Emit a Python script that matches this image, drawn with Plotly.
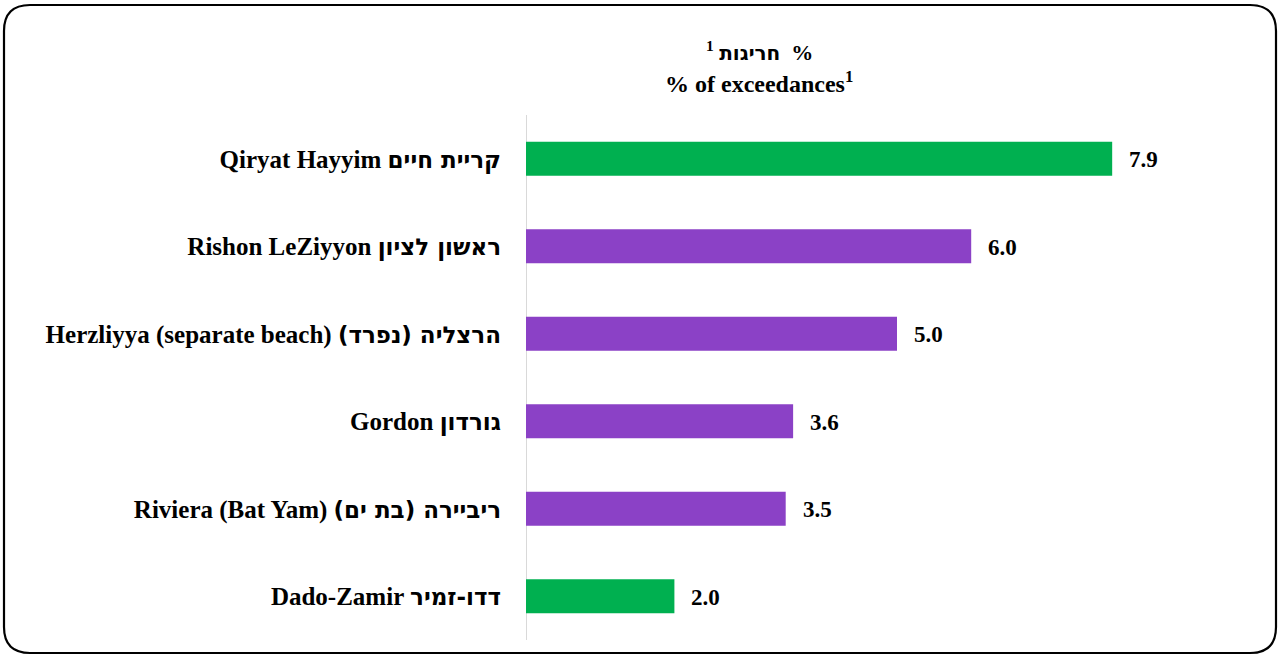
import plotly.graph_objects as go

HEB = '<span style="font-family:\'DejaVu Sans\';font-weight:bold;font-size:{}px">{}</span>'

english = ["Qiryat Hayyim", "Rishon LeZiyyon", "Herzliyya (separate beach)",
           "Gordon", "Riviera (Bat Yam)", "Dado-Zamir"]
hebrew = ["קריית חיים", "ראשון לציון", "הרצליה (נפרד)",
          "גורדון", "ריביירה (בת ים)", "דדו-זמיר"]
values = [7.9, 6.0, 5.0, 3.6, 3.5, 2.0]
value_labels = ["7.9", "6.0", "5.0", "3.6", "3.5", "2.0"]
colors = ["#00B050", "#8B41C6", "#8B41C6", "#8B41C6", "#8B41C6", "#00B050"]

categories = [f"{e} {h}" for e, h in zip(english, hebrew)]
ticktexts = [f"{e} " + HEB.format(23, h) for e, h in zip(english, hebrew)]

W, H = 1279, 655
L, R, T, B = 526, 11, 115, 15
pw, ph = W - L - R, H - T - B

FONT = "Liberation Serif, serif"

fig = go.Figure(go.Bar(
    x=values, y=categories, orientation="h",
    marker=dict(color=colors, line=dict(width=0)),
    width=0.39, hoverinfo="skip",
))

for c, v, t in zip(categories, values, value_labels):
    fig.add_annotation(x=v, y=c, text=f"<b>{t}</b>", showarrow=False,
                       xanchor="left", xshift=15, yshift=-1,
                       font=dict(family=FONT, size=23, color="#000"))

def px(x):
    return (x - L) / pw

def py(y):
    return (H - B - y) / ph

x0, x1, y0, y1, r = 4, 1276, 5, 653, 26
path = (f"M {px(x0+r)},{py(y0)} L {px(x1-r)},{py(y0)} "
        f"Q {px(x1)},{py(y0)} {px(x1)},{py(y0+r)} "
        f"L {px(x1)},{py(y1-r)} Q {px(x1)},{py(y1)} {px(x1-r)},{py(y1)} "
        f"L {px(x0+r)},{py(y1)} Q {px(x0)},{py(y1)} {px(x0)},{py(y1-r)} "
        f"L {px(x0)},{py(y0+r)} Q {px(x0)},{py(y0)} {px(x0+r)},{py(y0)} Z")

fig.add_annotation(x=px(759), y=py(51), xref="paper", yref="paper",
                   text="<b><sup>1</sup> " + HEB.format(20, "חריגות") + "  %</b>",
                   showarrow=False, xanchor="center", yanchor="middle",
                   font=dict(family=FONT, size=22, color="#000"))
fig.add_annotation(x=px(759), y=py(82), xref="paper", yref="paper",
                   text="<b>% of exceedances<sup>1</sup></b>", showarrow=False,
                   xanchor="center", yanchor="middle",
                   font=dict(family=FONT, size=24, color="#000"))

fig.update_layout(
    width=W, height=H,
    margin=dict(l=L, r=R, t=T, b=B, autoexpand=False),
    paper_bgcolor="white", plot_bgcolor="white",
    showlegend=False,
    xaxis=dict(range=[0, 10], visible=False, fixedrange=True),
    yaxis=dict(categoryorder="array", categoryarray=categories,
               tickmode="array", tickvals=categories, ticktext=ticktexts,
               autorange="reversed", showgrid=False, zeroline=False,
               ticks="", showline=False, ticklabelstandoff=24, fixedrange=True,
               tickfont=dict(family=FONT, size=25, color="#000", weight="bold")),
    shapes=[
        dict(type="line", xref="x", yref="paper", x0=0, x1=0, y0=0, y1=1,
             line=dict(color="#D9D9D9", width=2), layer="below"),
        dict(type="path", path=path, xref="paper", yref="paper",
             line=dict(color="#000", width=2.2), layer="above"),
    ],
)

fig.write_html("out.html", config={"displayModeBar": False},
               post_script="document.body.style.margin='0';document.body.style.padding='0';")
